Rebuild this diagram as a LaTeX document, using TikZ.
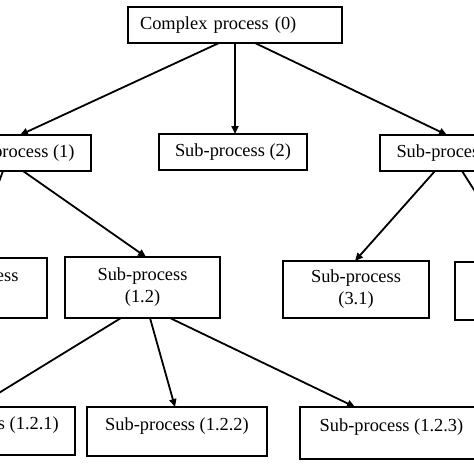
\documentclass[tikz,border=0pt]{standalone}
\usepackage{fontspec}
\setmainfont{Liberation Serif}
\usetikzlibrary{arrows.meta,calc}
\begin{document}
\begin{tikzpicture}[x=1pt,y=-1pt,
  box/.style={draw=black,line width=2.2pt,inner sep=0pt,outer sep=0pt,
    font=\fontsize{18.4}{22}\selectfont,align=center},
  lowtext/.style={text height=12pt,text depth=15pt},
  conn/.style={line width=1.8pt,-{Triangle[length=8pt,width=7pt]}}]
\useasboundingbox (0,0) rectangle (474,474);
\clip (0,0) rectangle (474,474);
\fill[white] (0,0) rectangle (474,474);
% row 1
\node[box,minimum width=214pt,minimum height=36pt,text width=190pt,inner xsep=12pt,align=left] (n0) at (235,25) {Complex process (0)};
% row 2
\node[box,minimum width=149pt,minimum height=36pt] (n1) at (16.5,153) {Sub-process (1)};
\node[box,minimum width=148pt,minimum height=36pt] (n2) at (233,152) {Sub-process (2)};
\node[box,minimum width=149pt,minimum height=36pt] (n3) at (454.5,153) {Sub-process (3)};
% row 3
\node[box,minimum width=147pt,minimum height=60pt] (n11) at (-26.5,288) {Sub-process\\(1.1)};
\node[box,minimum width=155pt,minimum height=61pt] (n12) at (142.5,287.5) {Sub-process\\(1.2)};
\node[box,minimum width=146pt,minimum height=57pt] (n31) at (356,289.5) {Sub-process\\(3.1)};
\node[box,minimum width=146pt,minimum height=58pt] (n32) at (528,291) {Sub-process\\(3.2)};
% row 4
\node[box,lowtext,minimum width=176pt,minimum height=48pt] (n121) at (-13,431) {Sub-process (1.2.1)};
\node[box,lowtext,minimum width=180pt,minimum height=49pt] (n122) at (177,431.5) {Sub-process (1.2.2)};
\node[box,lowtext,minimum width=183pt,minimum height=52pt] (n123) at (391.5,433) {Sub-process (1.2.3)};
% connectors
\draw[conn] ([xshift=-16pt]n0.south) -- ([xshift=3.5pt]n1.north);
\draw[conn] (n0.south) -- (n0.south |- n2.north);
\draw[conn] ([xshift=20pt]n0.south) -- ([xshift=-7.5pt]n3.north);
\draw[conn] ([xshift=-13.5pt]n1.south) -- ([xshift=-3pt]n11.north);
\draw[conn] ([xshift=6.5pt]n1.south) -- ([xshift=3.5pt]n12.north);
\draw[conn] ([xshift=-19.5pt]n3.south) -- ([xshift=-1pt]n31.north);
\draw[conn] ([xshift=7.5pt]n3.south) -- ([xshift=-8pt]n32.north);
\draw[conn] ([xshift=-21.5pt]n12.south) -- ([xshift=-11pt]n121.north);
\draw[conn] ([xshift=7.5pt]n12.south) -- ([xshift=-2pt]n122.north);
\draw[conn] ([xshift=27.5pt]n12.south) -- ([xshift=-36.5pt]n123.north);
\end{tikzpicture}
\end{document}
